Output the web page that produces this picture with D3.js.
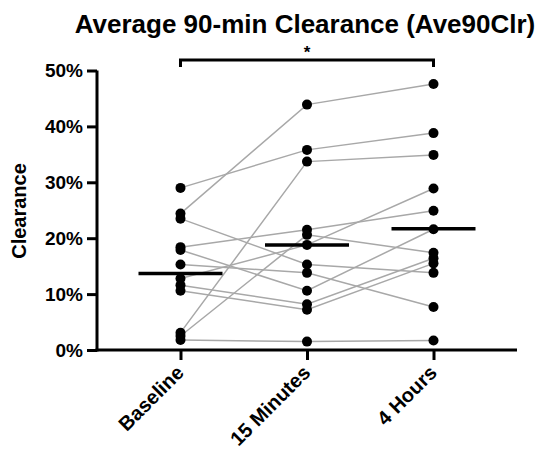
<!DOCTYPE html>
<html>
<head>
<meta charset="utf-8">
<script src="https://cdn.jsdelivr.net/npm/d3@7"></script>
<style>
  html, body { margin: 0; padding: 0; background: #fff; }
  svg { display: block; font-family: "Liberation Sans", Arial, sans-serif; }
</style>
</head>
<body>
<svg id="chart" width="542" height="449"></svg>
<script>
// Timepoints (categories)
const timepoints = ["Baseline", "15 Minutes", "4 Hours"];
// Per-subject clearance (%) at each timepoint
const baseline   = [29.0, 24.4, 23.5, 18.4, 17.9, 15.3, 12.8, 11.6, 10.6, 3.1, 2.5, 1.8];
const min15      = [35.8, 43.9, 15.3, 21.5, 10.6, 13.8, 18.8,  8.2,  7.2, 33.7, 20.6, 1.5];
const hours4     = [38.8, 47.6, 13.8, 24.9, 21.6,  7.7, 28.9, 16.4, 15.5, 34.9, 17.4, 1.7];
// Mean bars (%) as drawn in the picture
const means = [13.7, 18.8, 21.7];
// Y ticks (%)
const yTicks = [0, 10, 20, 30, 40, 50];
const title = "Average 90-min Clearance (Ave90Clr)";
const yLabel = "Clearance";
const sigLabel = "*";

const svg = d3.select("#chart");
const x = d3.scalePoint().domain(timepoints).range([97, 517]).padding(0.66);
const y = d3.scaleLinear().domain([0, 50]).range([350, 70.5]);

const subjects = baseline.map((b, i) => [b, min15[i], hours4[i]]);

// connecting lines
const line = d3.line().x((d, j) => x(timepoints[j])).y(d => y(d));
svg.append("g").selectAll("path").data(subjects).join("path")
  .attr("d", d => line(d))
  .attr("fill", "none").attr("stroke", "#a8a8a8").attr("stroke-width", 1.5);

// points
const pts = [];
subjects.forEach(s => s.forEach((v, j) => pts.push({t: timepoints[j], v})));
svg.append("g").selectAll("circle").data(pts).join("circle")
  .attr("cx", d => x(d.t)).attr("cy", d => y(d.v)).attr("r", 5).attr("fill", "#000");

// mean bars
svg.append("g").selectAll("line").data(means).join("line")
  .attr("x1", (d, j) => x(timepoints[j]) - 42)
  .attr("x2", (d, j) => x(timepoints[j]) + 42)
  .attr("y1", d => y(d)).attr("y2", d => y(d))
  .attr("stroke", "#000").attr("stroke-width", 3.5);

// y axis
const yAxis = svg.append("g").attr("transform", "translate(97,0)")
  .call(d3.axisLeft(y).tickValues(yTicks).tickFormat(d => d + "%").tickSize(10).tickPadding(4));
yAxis.select(".domain").attr("stroke-width", 3).attr("d", `M0,${y(50)}V${y(0)+1.5}`);
yAxis.selectAll(".tick line").attr("stroke-width", 3);
yAxis.selectAll(".tick text").attr("font-size", 19).attr("font-weight", "bold")
  .attr("font-family", "Liberation Sans, Arial, sans-serif").attr("fill", "#000");

// x axis
const xAxis = svg.append("g").attr("transform", "translate(0,350)")
  .call(d3.axisBottom(x).tickSize(10).tickPadding(4));
xAxis.select(".domain").attr("stroke-width", 3).attr("d", "M95.5,0H517");
xAxis.selectAll(".tick line").attr("stroke-width", 3);
xAxis.selectAll(".tick text")
  .attr("font-size", 20).attr("font-weight", "bold")
  .attr("font-family", "Liberation Sans, Arial, sans-serif").attr("fill", "#000")
  .attr("text-anchor", "end")
  .attr("dy", 0)
  .attr("transform", "translate(4,24) rotate(-45)")
  .attr("y", 0).attr("x", 0);

// y label
svg.append("text")
  .attr("transform", "translate(26,211) rotate(-90)")
  .attr("text-anchor", "middle").attr("font-size", 20).attr("font-weight", "bold")
  .text(yLabel);

// title
svg.append("text").attr("x", 305).attr("y", 33)
  .attr("text-anchor", "middle").attr("font-size", 26).attr("font-weight", "bold")
  .text(title);

// significance bracket
const bx1 = x(timepoints[0]), bx2 = x(timepoints[2]);
svg.append("path")
  .attr("d", `M${bx1},67V60H${bx2}V67`)
  .attr("fill", "none").attr("stroke", "#000").attr("stroke-width", 3);
svg.append("text").attr("x", (bx1 + bx2) / 2).attr("y", 58)
  .attr("text-anchor", "middle").attr("font-size", 17).attr("font-weight", "bold")
  .text(sigLabel);
</script>
</body>
</html>
